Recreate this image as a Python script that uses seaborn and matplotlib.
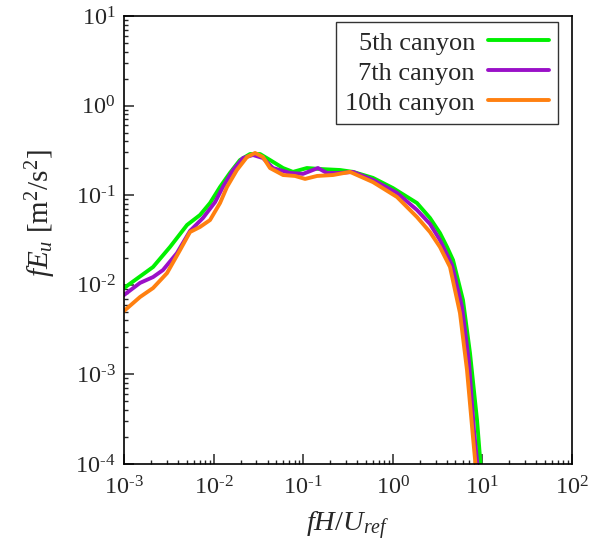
import pandas as pd
import matplotlib
matplotlib.use('Agg')
import matplotlib.pyplot as plt
import matplotlib.ticker as mticker
import seaborn as sns

# spectra (fH/U_ref, fE_u)
f_5th = [0.001, 0.00211, 0.00326, 0.00505, 0.00705, 0.00912, 0.0118, 0.0152, 0.0197, 0.0255,
         0.0330, 0.0426, 0.0596, 0.0769, 0.110, 0.154, 0.258, 0.360, 0.601, 1.005,
         1.86, 2.60, 3.36, 4.03, 4.70, 6.07, 7.27, 8.71, 9.64]
E_5th = [0.0092, 0.0158, 0.0264, 0.0465, 0.0601, 0.0818, 0.1235, 0.177, 0.247, 0.288,
         0.288, 0.247, 0.201, 0.182, 0.201, 0.196, 0.191, 0.182, 0.156, 0.120,
         0.0818, 0.0557, 0.0378, 0.0264, 0.0189, 0.00676, 0.00173, 0.00031, 0.000086]

f_7th = [0.001, 0.00151, 0.00211, 0.00272, 0.00390, 0.00545, 0.00761, 0.0104, 0.0127, 0.0165,
         0.0213, 0.0275, 0.0355, 0.0460, 0.0712, 0.0995, 0.146, 0.184, 0.258, 0.360,
         0.601, 1.114, 1.86, 2.60, 3.36, 4.58, 5.92, 7.08, 8.05, 8.93]
E_7th = [0.00769, 0.0105, 0.0122, 0.0146, 0.0226, 0.0399, 0.0557, 0.0839, 0.1235, 0.191,
         0.260, 0.281, 0.260, 0.201, 0.177, 0.173, 0.201, 0.177, 0.177, 0.182,
         0.148, 0.106, 0.0684, 0.0478, 0.0316, 0.0166, 0.00565, 0.00137, 0.000239, 0.000086]

f_10th = [0.001, 0.00151, 0.00211, 0.00302, 0.00422, 0.00545, 0.00705, 0.00912, 0.0118, 0.0141,
          0.0182, 0.0236, 0.0290, 0.0355, 0.0426, 0.0596, 0.0810, 0.105, 0.143, 0.215,
          0.333, 0.601, 1.114, 1.86, 2.60, 3.36, 4.35, 5.62, 6.73, 7.85, 8.49]
E_10th = [0.00510, 0.00731, 0.0092, 0.0135, 0.0244, 0.0388, 0.0442, 0.0528, 0.0818, 0.1235,
          0.191, 0.267, 0.296, 0.267, 0.201, 0.168, 0.164, 0.152, 0.164, 0.168,
          0.182, 0.140, 0.0955, 0.0571, 0.0388, 0.0264, 0.0158, 0.00484, 0.00112, 0.000200, 0.000086]

series = ['5th canyon', '7th canyon', '10th canyon']
colors = ['#00f000', '#9a10c8', '#ff8010']

x_ticks = [1e-3, 1e-2, 1e-1, 1e0, 1e1, 1e2]
x_ticklabels = ['10$^{\\text{-3}}$', '10$^{\\text{-2}}$', '10$^{\\text{-1}}$',
                '10$^{\\text{0}}$', '10$^{\\text{1}}$', '10$^{\\text{2}}$']
y_ticks = [1e-4, 1e-3, 1e-2, 1e-1, 1e0, 1e1]
y_ticklabels = ['10$^{\\text{-4}}$', '10$^{\\text{-3}}$', '10$^{\\text{-2}}$',
                '10$^{\\text{-1}}$', '10$^{\\text{0}}$', '10$^{\\text{1}}$']

frames = []
for name, fx, ey in zip(series, [f_5th, f_7th, f_10th], [E_5th, E_7th, E_10th]):
    frames.append(pd.DataFrame({'f': fx, 'E': ey, 'case': name}))
df = pd.concat(frames, ignore_index=True)

sns.set_style('ticks')
plt.rcParams['font.family'] = ['Liberation Serif', 'DejaVu Serif']
plt.rcParams['mathtext.fontset'] = 'custom'
plt.rcParams['mathtext.rm'] = 'Liberation Serif'
plt.rcParams['mathtext.it'] = 'Liberation Serif:italic'
plt.rcParams['mathtext.default'] = 'regular'

fig = plt.figure(figsize=(5.89, 5.51), dpi=100)
ax = fig.add_axes([124 / 589, 87 / 551, 448 / 589, 448 / 551])

sns.lineplot(data=df, x='f', y='E', hue='case', hue_order=series, palette=colors,
             sort=False, estimator=None, units='case', linewidth=2.8, ax=ax, legend=True)

ax.set_xscale('log')
ax.set_yscale('log')
ax.set_xlim(1e-3, 1e2)
ax.set_ylim(1e-4, 1e1)
ax.set_xticks(x_ticks)
ax.set_xticklabels(x_ticklabels)
ax.set_yticks(y_ticks)
ax.set_yticklabels(y_ticklabels)
ax.xaxis.set_minor_locator(mticker.LogLocator(base=10, subs=range(2, 10), numticks=20))
ax.yaxis.set_minor_locator(mticker.LogLocator(base=10, subs=range(2, 10), numticks=20))
ax.xaxis.set_minor_formatter(mticker.NullFormatter())
ax.yaxis.set_minor_formatter(mticker.NullFormatter())
ax.tick_params(which='major', direction='in', length=7, width=1.1, labelsize=17.5,
               top=False, right=False)
ax.tick_params(axis='x', which='major', pad=9)
ax.tick_params(axis='y', which='major', pad=6)
ax.tick_params(which='minor', direction='in', length=3, width=1.0, top=False, right=False)
for sp in ax.spines.values():
    sp.set_linewidth(1.2)
    sp.set_color('black')

ax.set_xlabel('$\\mathit{fH/U_{ref}}$', fontsize=20.5, labelpad=7)
ax.set_ylabel('$\\mathit{fE_u}$ [m$^2$/s$^2$]', fontsize=21)
ax.yaxis.set_label_coords(-0.148, 0.56)

leg = ax.legend(loc='upper right', bbox_to_anchor=(0.969, 0.987), borderaxespad=0,
                fontsize=19, markerfirst=False, frameon=True, fancybox=False,
                handlelength=2.3, labelspacing=0.25, borderpad=0.35, handletextpad=0.5)
leg.get_frame().set_edgecolor('black')
leg.get_frame().set_linewidth(1.0)
for line in leg.get_lines():
    line.set_linewidth(2.8)

fig.savefig('out.png', dpi=100)
plt.close(fig)
